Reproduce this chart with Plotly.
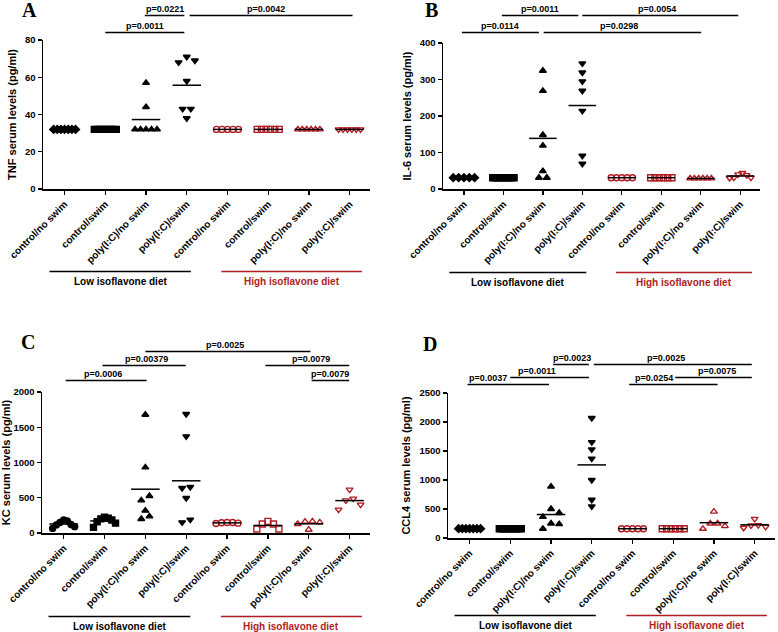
import numpy as np
import plotly.graph_objects as go

W, H = 778, 632
RED = "#B01C22"
FONT = "Arial, Liberation Sans, sans-serif"
SERIF = "Liberation Serif, Times New Roman, serif"

# ---------------- data ----------------
categories = ["control/no swim", "control/swim", "poly(I:C)/no swim", "poly(I:C)/swim",
              "control/no swim", "control/swim", "poly(I:C)/no swim", "poly(I:C)/swim"]
diet_labels = ["Low isoflavone diet", "High isoflavone diet"]

tnf = [
    [32, 32, 32, 32, 32, 32, 32],
    [32, 32, 32, 32, 32, 32, 32, 32, 32],
    [57, 44, 32, 32, 32, 32, 32],
    [69, 68, 71, 58, 43, 43, 38],
    [32, 32, 32, 32, 32],
    [32, 32, 32, 32, 32, 32],
    [32, 32, 32, 32, 32, 32],
    [32, 32, 32, 32, 32, 32],
]
il6 = [
    [31, 31, 31, 31, 31],
    [31, 31, 31, 31, 31, 31, 31, 31, 31],
    [324, 269, 148, 119, 49, 31, 31],
    [344, 319, 295, 269, 214, 91, 69],
    [31, 31, 31, 31, 31],
    [31, 31, 31, 31, 31, 31],
    [29, 29, 29, 29, 29, 29],
    [44, 31, 30, 31, 38, 40],
]
kc = [
    [185, 170, 150, 120, 90, 65, 115],
    [225, 210, 200, 185, 160, 140, 80],
    [1678, 931, 525, 463, 317, 236, 199],
    [1688, 1371, 652, 638, 496, 189, 151],
    [150, 150, 135, 140, 145],
    [165, 128, 57, 57, 128],
    [165, 151, 47, 128, 161],
    [615, 487, 463, 402, 331],
]
ccl4 = [
    [160, 160, 160, 160, 160, 160, 160],
    [160, 160, 160, 160, 160, 160, 160, 160, 160, 160],
    [886, 500, 432, 364, 250, 240, 159],
    [2068, 1653, 1528, 1369, 1000, 659, 545],
    [160, 160, 160, 160, 160],
    [160, 160, 160, 160, 160, 160],
    [455, 250, 159, 205, 250],
    [330, 216, 176, 193, 222],
]

# significance: labels and compared groups
tnf_p = ["p=0.0011", "p=0.0221", "p=0.0042"]
tnf_cmp = [(1, 3), (2, 3), (3, 7)]
il6_p = ["p=0.0114", "p=0.0011", "p=0.0298", "p=0.0054"]
il6_cmp = [(0, 2), (1, 3), (2, 6), (3, 7)]
kc_p = ["p=0.0025", "p=0.00379", "p=0.0006", "p=0.0079", "p=0.0079"]
kc_cmp = [(2, 6), (1, 3), (0, 2), (5, 7), (6, 7)]
ccl4_p = ["p=0.0023", "p=0.0025", "p=0.0011", "p=0.0037", "p=0.0254", "p=0.0075"]
ccl4_cmp = [(2, 3), (3, 7), (1, 3), (0, 2), (4, 6), (5, 7)]

# ---------------- layout / style ----------------
XR = [-0.53, 7.5]
# bracket layout: (y pixel, start trim, end trim, text position fraction)
panels = [
    dict(letter="A", data=tnf, p=tnf_p, cmp=tnf_cmp, x0=43, x1=370, ytop=40, ybot=189, ymax=80, dtick=20,
         title="TNF serum levels (pg/ml)", g1="diamond", lxy=(29, 10), uy=271,
         br=[(32, 0.0, -0.06, 0.5), (15, -0.03, -0.06, 0.5), (15, 0.07, 0.07, 0.47)]),
    dict(letter="B", data=il6, p=il6_p, cmp=il6_cmp, x0=443, x1=760, ytop=43, ybot=189, ymax=400, dtick=100,
         title="IL-6 serum levels (pg/ml)", g1="diamond", lxy=(431, 10), uy=272,
         br=[(32, -0.05, -0.1, 0.5), (15, -0.04, -0.1, 0.5), (32, 0.02, 0.01, 0.48), (15, 0.0, -0.05, 0.48)]),
    dict(letter="C", data=kc, p=kc_p, cmp=kc_cmp, x0=42, x1=370, ytop=392, ybot=533, ymax=2000, dtick=500,
         title="KC serum levels (pg/ml)", g1="circle", lxy=(28, 342), uy=616,
         br=[(351, 0.0, 0.04, 0.48), (365, -0.05, -0.01, 0.53), (380, 0.05, 0.03, 0.46),
             (365, -0.06, -0.01, 0.55), (380, 0.07, -0.01, 0.5)]),
    dict(letter="D", data=ccl4, p=ccl4_p, cmp=ccl4_cmp, x0=448, x1=775, ytop=393, ybot=538, ymax=2500, dtick=500,
         title="CCL4 serum levels (pg/ml)", g1="diamond", lxy=(430, 344), uy=615,
         br=[(364, 0.05, -0.07, 0.53), (364, 0.05, -0.07, 0.46), (377, 0.0, -0.07, 0.34),
             (384, -0.05, -0.05, 0.25), (384, -0.08, 0.09, 0.28), (377, 0.05, -0.07, 0.55)]),
]


def offsets(vals, thr, maxw=0.54, step=0.2):
    """Spread points with (nearly) equal values sideways, column-scatter style."""
    vals = np.asarray(vals, float)
    order = np.argsort(vals, kind="stable")
    off = np.zeros(len(vals))
    clusters, cur = [], [order[0]]
    for i in order[1:]:
        if vals[i] - vals[cur[-1]] <= thr:
            cur.append(i)
        else:
            clusters.append(cur)
            cur = [i]
    clusters.append(cur)
    for cl in clusters:
        n = len(cl)
        if n == 1:
            continue
        s = min(step, maxw / (n - 1))
        slots = []
        lo, hi = 0, n - 1
        while lo <= hi:
            slots.append(lo)
            if hi != lo:
                slots.append(hi)
            lo += 1
            hi -= 1
        for idx, slot in zip(cl, slots):
            off[idx] = (slot - (n - 1) / 2) * s
    return off


def px_x(p, c):
    return (p["x0"] + (c - XR[0]) / (XR[1] - XR[0]) * (p["x1"] - p["x0"])) / W


def py(y):
    return 1 - y / H


fig = go.Figure()
shapes, annotations = [], []
layout_axes = {}

for i, p in enumerate(panels):
    n = i + 1
    xa = "x" if n == 1 else f"x{n}"
    ya = "y" if n == 1 else f"y{n}"
    symbols = [p["g1"], "square", "triangle-up", "triangle-down",
               "circle-open", "square-open", "triangle-up-open", "triangle-down-open"]
    for g, vals in enumerate(p["data"]):
        off = offsets(vals, 0.04 * p["ymax"])
        col = "black" if g < 4 else RED
        fig.add_trace(go.Scatter(
            x=g + off, y=vals, mode="markers", xaxis=xa, yaxis=ya, cliponaxis=False,
            marker=dict(symbol=symbols[g], size=6, color=col, line=dict(color=col, width=1.4)),
            showlegend=False, hoverinfo="y"))
    for g, vals in enumerate(p["data"]):
        m = float(np.mean(vals))
        fig.add_trace(go.Scatter(
            x=[g - 0.35, g + 0.35], y=[m, m], mode="lines", xaxis=xa, yaxis=ya,
            line=dict(color="black", width=1.5), showlegend=False, hoverinfo="skip"))

    axstyle = dict(showline=True, linecolor="black", linewidth=1.5, ticks="outside", ticklen=4,
                   tickwidth=1.3, tickcolor="black", showgrid=False, zeroline=False, automargin=False)
    layout_axes["xaxis" if n == 1 else f"xaxis{n}"] = dict(
        domain=[p["x0"] / W, p["x1"] / W], range=XR, tickvals=list(range(8)), ticktext=categories,
        tickangle=-45, anchor=ya, tickfont=dict(family=FONT, size=10, color="black", weight="bold"), **axstyle)
    layout_axes["yaxis" if n == 1 else f"yaxis{n}"] = dict(
        domain=[py(p["ybot"]), py(p["ytop"])], range=[0, p["ymax"]], dtick=p["dtick"], anchor=xa,
        tickfont=dict(family=FONT, size=9.5, color="black", weight="bold"),
        title=dict(text=p["title"], font=dict(family=FONT, size=11, color="black", weight="bold"), standoff=6),
        **axstyle)

    # panel letter
    annotations.append(dict(text=p["letter"], x=p["lxy"][0] / W, y=py(p["lxy"][1]), xref="paper", yref="paper",
                            xanchor="center", yanchor="middle", showarrow=False,
                            font=dict(family=SERIF, size=20, color="black", weight="bold")))
    # significance brackets
    for lab, (a, b), (ypx, t0, t1, tf) in zip(p["p"], p["cmp"], p["br"]):
        xa0, xa1 = px_x(p, a + t0), px_x(p, b + t1)
        yl = py(ypx + 0.5)
        shapes.append(dict(type="line", xref="paper", yref="paper", x0=xa0, x1=xa1, y0=yl, y1=yl,
                           line=dict(color="black", width=1.5)))
        annotations.append(dict(text=lab, x=xa0 + tf * (xa1 - xa0), y=py(ypx), xref="paper", yref="paper",
                                xanchor="center", yanchor="bottom", showarrow=False, borderpad=0,
                                font=dict(family=FONT, size=9, color="black", weight="bold")))
    # diet group underlines
    for d, (c0, c1), col in zip(diet_labels, [(-0.37, 3.1), (3.85, 7.3)], ["black", RED]):
        xs0, xs1 = px_x(p, c0), px_x(p, c1)
        yl = py(p["uy"] + 0.5)
        shapes.append(dict(type="line", xref="paper", yref="paper", x0=xs0, x1=xs1, y0=yl, y1=yl,
                           line=dict(color=col, width=1.5)))
        annotations.append(dict(text=d, x=(xs0 + xs1) / 2, y=py(p["uy"] + 3), xref="paper", yref="paper",
                                xanchor="center", yanchor="top", showarrow=False,
                                font=dict(family=FONT, size=10, color=col, weight="bold")))

fig.update_layout(
    template="none", width=W, height=H, margin=dict(l=0, r=0, t=0, b=0),
    paper_bgcolor="white", plot_bgcolor="white", showlegend=False,
    shapes=shapes, annotations=annotations, **layout_axes)

fig.write_html("out.html", config={"displayModeBar": False, "staticPlot": True})

# remove the default page margin so the figure sits at the window's top-left corner
with open("out.html", "r", encoding="utf-8") as f:
    html = f.read()
html = html.replace("<head>", "<head><style>html,body{margin:0;padding:0;overflow:hidden;}</style>", 1)
with open("out.html", "w", encoding="utf-8") as f:
    f.write(html)
